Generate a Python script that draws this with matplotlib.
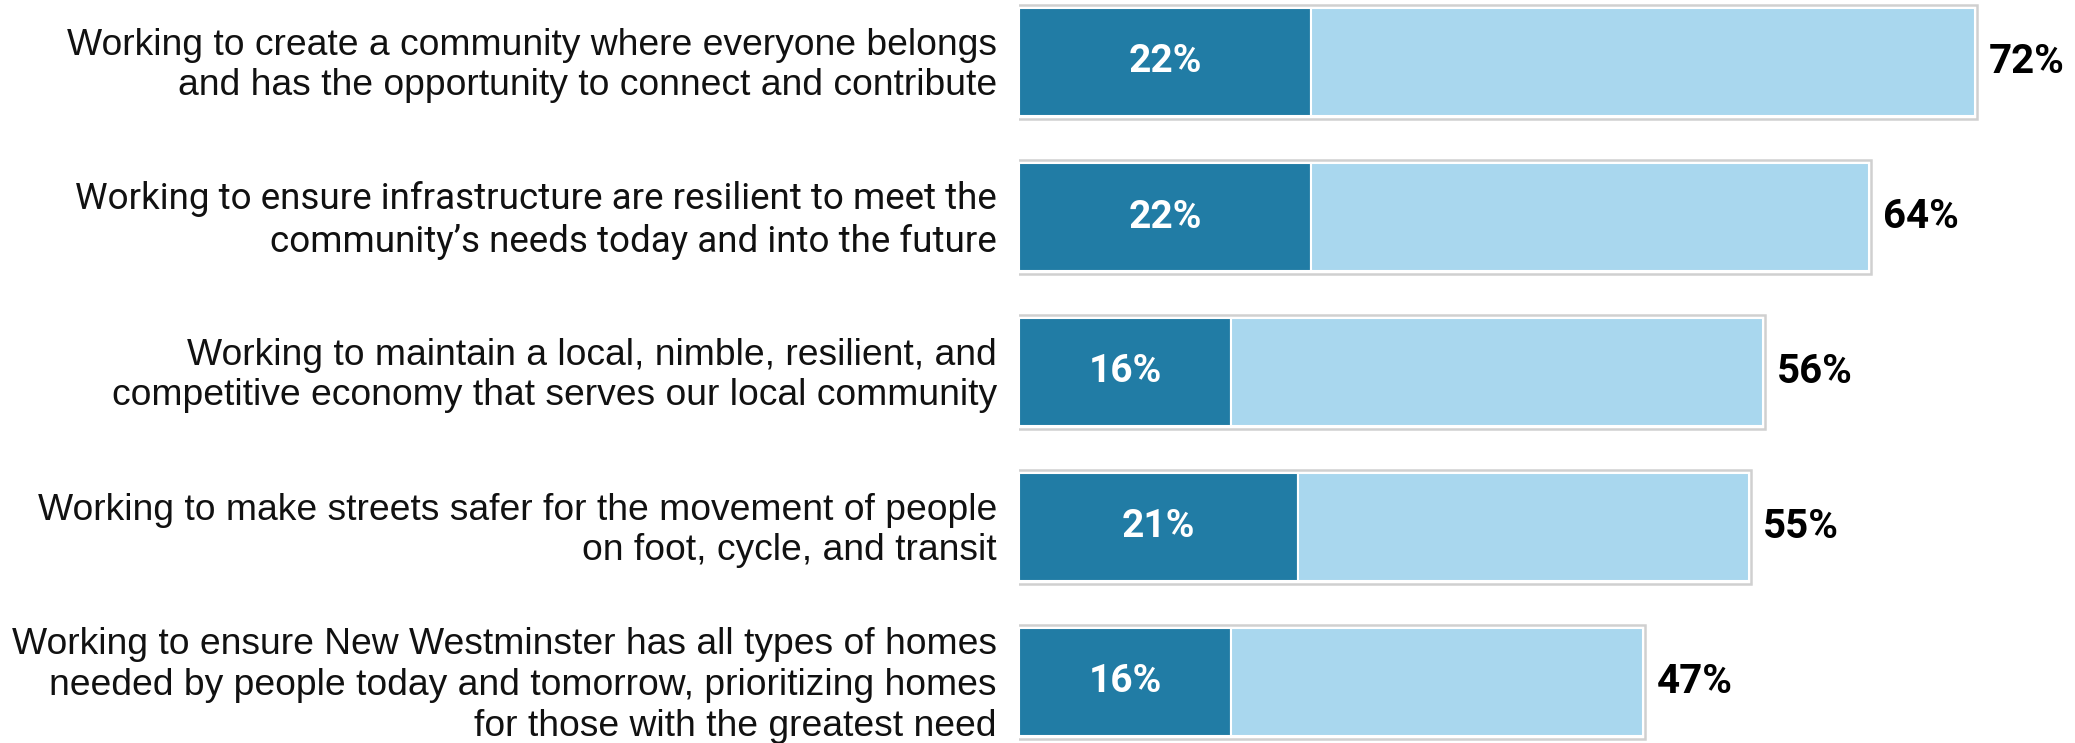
import matplotlib
matplotlib.use("Agg")
import matplotlib.pyplot as plt

categories = [
    "Working to create a community where everyone belongs\nand has the opportunity to connect and contribute",
    "Working to ensure infrastructure are resilient to meet the\ncommunity\u2019s needs today and into the future",
    "Working to maintain a local, nimble, resilient, and\ncompetitive economy that serves our local community",
    "Working to make streets safer for the movement of people\non foot, cycle, and transit",
    "Working to ensure New Westminster has all types of homes\nneeded by people today and tomorrow, prioritizing homes\nfor those with the greatest need",
]
strong = [22, 22, 16, 21, 16]
total = [72, 64, 56, 55, 47]

dark = "#217CA5"
light = "#A9D7EE"

fig = plt.figure(figsize=(20.75, 7.43), dpi=100)
ax = fig.add_axes([1019 / 2075, 0, 1 - 1019 / 2075, 1])
ypos = list(range(len(categories)))
xmax = 1056 / 13.28
ax.set_xlim(0, xmax)
ax.set_ylim(4 + (743 - 682) / 155, -62 / 155)

# outer gray frame
ax.barh(ypos, [t + 0.3 for t in total], left=-0.15, height=0.735,
        color="white", edgecolor="#d0d0d0", linewidth=1.8, zorder=1)
soft = [t - s for t, s in zip(total, strong)]
ax.barh(ypos, strong, height=0.70, color=dark, edgecolor="white", linewidth=1.5, zorder=2)
ax.barh(ypos, soft, left=strong, height=0.70, color=light, edgecolor="white", linewidth=1.5, zorder=2)

for y, s, t in zip(ypos, strong, total):
    ax.text(s / 2, y, f"{s}%", ha="center", va="center", color="white",
            fontsize=28, fontweight="bold", family="Roboto", zorder=3)
    ax.text(t + 1.05, y, f"{t}%", ha="left", va="center", color="black",
            fontsize=29, fontweight="bold", family="Roboto", zorder=3)

# category labels
for i, (y, lab) in enumerate(zip(ypos, categories)):
    fam = "Roboto" if i == 1 else "Liberation Sans"
    fs = 26.5 if i == 1 else 26.8
    ax.annotate(lab, xy=(0, y), xycoords=("axes fraction", "data"),
                xytext=(-16, -2.5), textcoords="offset points",
                ha="right", va="center", multialignment="right",
                fontsize=fs, family=fam, linespacing=1.22, color="#111111")

ax.set_yticks([])
ax.set_xticks([])
for sp in ax.spines.values():
    sp.set_visible(False)

fig.savefig("out.png", dpi=100)
